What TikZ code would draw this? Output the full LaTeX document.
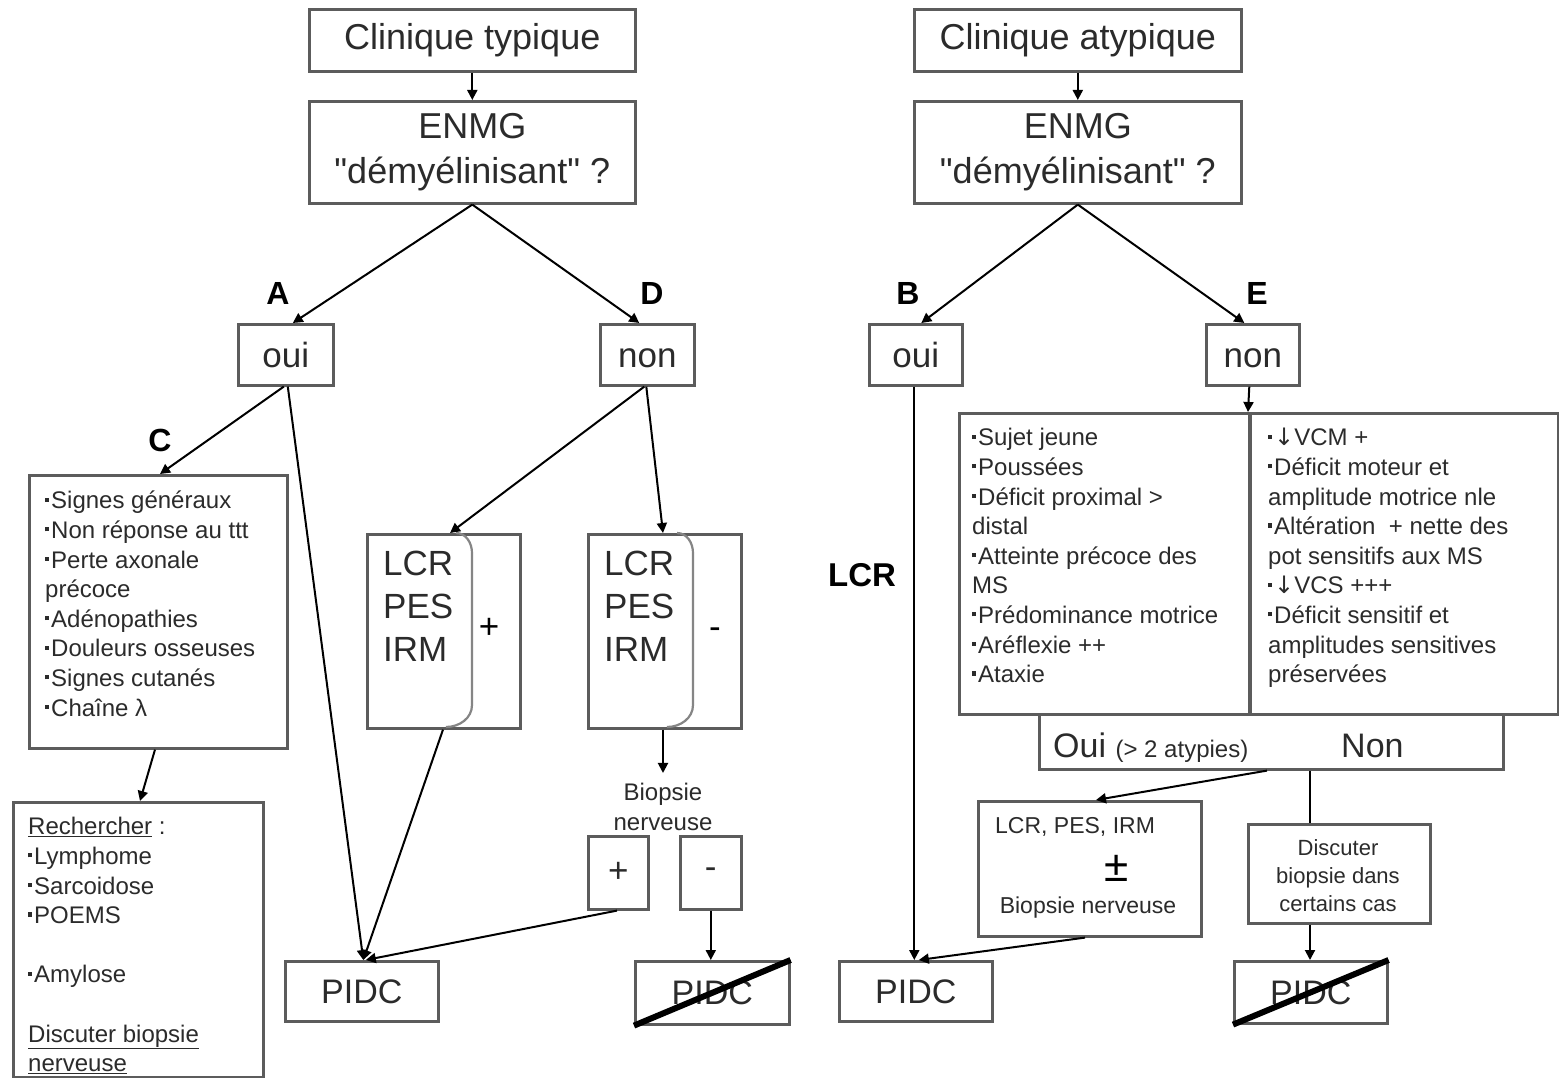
\documentclass[tikz,border=0pt]{standalone}
\usepackage{fontspec}
\setmainfont{Liberation Sans}
\newfontfamily\symfont{DejaVu Sans}
% same face without the TeX input mapping, so that " stays a straight quote
\newfontfamily\qfont{Liberation Sans}
\usetikzlibrary{arrows.meta,calc}
\definecolor{edge}{HTML}{5C5C5C}
\definecolor{ink}{HTML}{2B2B2B}
% small square bullet used in the lists
\newcommand\bu{\raisebox{0.3em}{\rule{0.17em}{0.17em}}\kern0.08em}
\newcommand\dn{{\symfont ↓}}
\newcommand\dq{{\qfont"}}
\tikzset{
  box/.style={draw=edge, line width=2.6pt, fill=white, inner sep=0pt, text=ink, anchor=north west},
  huge/.style={font=\fontsize{36}{45}\selectfont},
  mid/.style={font=\fontsize{35}{43}\selectfont},
  flat/.style={text height=25pt, text depth=0pt},
  list/.style={anchor=north west, inner sep=0pt, align=left, text=ink, font=\fontsize{24}{29.6}\selectfont},
  tag/.style={font=\bfseries\fontsize{32}{36}\selectfont, text=black, inner sep=0pt},
  conn/.style={draw=black, line width=2pt, -{Triangle[length=10pt,width=10pt]}},
  plain/.style={draw=black, line width=2pt},
  strike/.style={draw=black, line width=6pt},
  curl/.style={draw=edge!75, line width=2.2pt},
  divider/.style={draw=edge, line width=4.5pt},
}
\begin{document}
\begin{tikzpicture}[x=1pt, y=-1pt]
\fill[white] (0,0) rectangle (1559,1078);
\useasboundingbox (0,0) rectangle (1559,1078);

% ---------- typical presentation ----------
\node[box, huge, minimum width=326pt, minimum height=62pt] (ct) at (308,8) {Clinique typique};
\node[box, huge, align=center, minimum width=326pt, minimum height=102pt] (enL) at (308,100) {ENMG\\\dq démyélinisant\dq{} ?};
\node[box, mid, flat, minimum width=95pt, minimum height=61pt] (ouiA) at (237,323) {oui};
\node[box, mid, flat, minimum width=94pt, minimum height=61pt] (nonD) at (599,323) {non};
\node[tag] (lA) at (278,293) {A};
\node[tag] (lD) at (652,293) {D};
\node[tag] (lC) at (160,440) {C};

\node[box, minimum width=258pt, minimum height=273pt] (cbox) at (28,474) {};
\node[list] (ctext) at ($(cbox.north west)+(17,14)$) {\strut\bu Signes généraux\\\bu Non réponse au ttt\\\bu Perte axonale\\précoce\\\bu Adénopathies\\\bu Douleurs osseuses\\\bu Signes cutanés\\\bu Chaîne λ};

\node[box, minimum width=250pt, minimum height=275pt] (rbox) at (12,801) {};
\node[list] (rtext) at ($(rbox.north west)+(16,13)$) {\strut\underline{Rechercher} :\\\bu Lymphome\\\bu Sarcoidose\\\bu POEMS\\\mbox{}\\\bu Amylose\\\mbox{}\\\underline{Discuter biopsie}\\\underline{nerveuse}};

\node[box, minimum width=153pt, minimum height=194pt] (lcr1) at (366,533) {};
\node[mid, anchor=north west, inner sep=0pt, align=left, text=ink] (lcr1t) at ($(lcr1.north west)+(17,12.5)$) {\strut LCR\\PES\\IRM};
\node[mid, text=black, inner sep=0pt] (lcr1s) at (489,628) {+};
\draw[curl] ($(lcr1.north west)+(90,0)$) to[out=0,in=90] ($(lcr1.north west)+(106,20)$) -- ($(lcr1.north west)+(106,172)$) to[out=-90,in=0] ($(lcr1.north west)+(80,194)$);

\node[box, minimum width=153pt, minimum height=194pt] (lcr2) at (587,533) {};
\node[mid, anchor=north west, inner sep=0pt, align=left, text=ink] (lcr2t) at ($(lcr2.north west)+(17,12.5)$) {\strut LCR\\PES\\IRM};
\node[mid, text=black, inner sep=0pt] (lcr2s) at (715,633) {-};
\draw[curl] ($(lcr2.north west)+(90,0)$) to[out=0,in=90] ($(lcr2.north west)+(106,20)$) -- ($(lcr2.north west)+(106,172)$) to[out=-90,in=0] ($(lcr2.north west)+(80,194)$);

\node[align=center, text=ink, inner sep=0pt, font=\fontsize{24}{30}\selectfont] (bio) at (663,807) {Biopsie\\nerveuse};
\node[box, mid, minimum width=60pt, minimum height=73pt] (pbox) at (587,835) {+};
\node[box, mid, minimum width=61pt, minimum height=73pt] (mbox) at (679,835) {-};

\node[box, font=\fontsize{34}{40}\selectfont, minimum width=153pt, minimum height=60pt] (pidcL) at (284,960) {PIDC};
\node[box, font=\fontsize{34}{40}\selectfont, minimum width=154pt, minimum height=63pt] (pidcX1) at (634,960) {PIDC};

% connectors, typical side
\draw[conn] (ct.south) -- (enL.north);
\draw[conn] (enL.south) -- ($(ouiA.north)+(7,0)$);
\draw[conn] (enL.south) -- ($(nonD.north)+(-8,0)$);
\draw[conn] ($(ouiA.south)+(-2,0)$) -- ($(cbox.north west)+(132,0)$);
\draw[conn] ($(ouiA.south)+(2,0)$) -- ($(pidcL.north)+(1.5,0)$);
\draw[conn] ($(nonD.south)+(-3,0)$) -- ($(lcr1.north west)+(84,0)$);
\draw[conn] ($(nonD.south)+(-1,0)$) -- ($(lcr2.north west)+(76,0)$);
\draw[conn] ($(cbox.south west)+(127,0)$) -- ($(rbox.north west)+(128,0)$);
\draw[conn] ($(lcr1.south west)+(77,0)$) -- ($(pidcL.north)+(1.5,0)$);
\draw[conn] ($(lcr2.south west)+(76,0)$) -- ($(bio.north)+(0,-10)$);
\draw[conn] ($(pbox.south west)+(30,0)$) -- ($(pidcL.north)+(4,0)$);
\draw[conn] (mbox.south) -- (mbox.south |- pidcX1.north);
\draw[strike] (pidcX1.south west) -- (pidcX1.north east);

% ---------- atypical presentation ----------
\node[box, huge, minimum width=327pt, minimum height=62pt] (ca) at (913,8) {Clinique atypique};
\node[box, huge, align=center, minimum width=327pt, minimum height=102pt] (enR) at (913,100) {ENMG\\\dq démyélinisant\dq{} ?};
\node[box, mid, flat, minimum width=93pt, minimum height=61pt] (ouiB) at (868,323) {oui};
\node[box, mid, flat, minimum width=93pt, minimum height=61pt] (nonE) at (1205,323) {non};
\node[tag] (lB) at (908,293) {B};
\node[tag] (lE) at (1257,293) {E};
\node[tag, font=\bfseries\fontsize{33}{36}\selectfont] (lLCR) at (862,575) {LCR};

\node[box, minimum width=599pt, minimum height=301pt] (big) at (958,412) {};
\node[list] (bigl) at ($(big.north west)+(14,13)$) {\strut\bu Sujet jeune\\\bu Poussées\\\bu Déficit proximal >\\distal\\\bu Atteinte précoce des\\MS\\\bu Prédominance motrice\\\bu Aréflexie ++\\\bu Ataxie};
\node[list] (bigr) at ($(big.north west)+(310,13)$) {\strut\bu\dn VCM +\\\bu Déficit moteur et\\amplitude motrice nle\\\bu Altération ~+ nette des\\pot sensitifs aux MS\\\bu\dn VCS +++\\\bu Déficit sensitif et\\amplitudes sensitives\\préservées};

\node[box, minimum width=464pt, minimum height=55pt] (ouinon) at (1038,713) {};
\node[anchor=base west, inner sep=0pt, text=ink, font=\fontsize{34}{40}\selectfont] (ouiT) at (1053,757) {Oui {\fontsize{24}{28}\selectfont (> 2 atypies)}};
\node[anchor=base west, inner sep=0pt, text=ink, font=\fontsize{34}{40}\selectfont] (nonT) at (1341,757) {Non};

\node[box, minimum width=223pt, minimum height=135pt] (lcrpes) at (977,800) {};
\node[anchor=base west, inner sep=0pt, text=ink, font=\fontsize{23}{28}\selectfont] (lcrpesT) at (995,833) {LCR, PES, IRM};
\node[inner sep=0pt, text=black, font=\fontsize{44}{48}\selectfont] (pm) at (1117,868) {±};
\node[inner sep=0pt, text=ink, font=\fontsize{23}{28}\selectfont] (bioR) at (1088,908) {Biopsie nerveuse};

\node[box, minimum width=182pt, minimum height=99pt] (disc) at (1247,823) {};
\node[align=center, inner sep=0pt, text=ink, font=\fontsize{22}{28}\selectfont] (discT) at (1338,876) {Discuter\\biopsie dans\\certains cas};

\node[box, font=\fontsize{34}{40}\selectfont, minimum width=153pt, minimum height=60pt] (pidcR) at (838,960) {PIDC};
\node[box, font=\fontsize{34}{40}\selectfont, minimum width=153pt, minimum height=62pt] (pidcX2) at (1233,960) {PIDC};

% connectors, atypical side
\draw[conn] (ca.south) -- (enR.north);
\draw[conn] (enR.south) -- ($(ouiB.north)+(5.5,0)$);
\draw[conn] (enR.south) -- ($(nonE.north)+(-8.5,0)$);
\draw[conn] ($(ouiB.south)+(-1.5,0)$) -- ($(pidcR.north)+(-1.5,0)$);
\draw[conn] ($(nonE.south)+(-3.5,0)$) -- ($(big.north west)+(290,0)$);
\draw[divider] ($(big.north west)+(292,0)$) -- ($(big.south west)+(292,0)$);
\draw[conn] ($(ouinon.south west)+(229,0)$) -- ($(lcrpes.north west)+(119,0)$);
\draw[plain] ($(ouinon.south west)+(272,0)$) -- ($(disc.north west)+(63,0)$);
\draw[conn] ($(disc.south west)+(63,0)$) -- ($(pidcX2.north west)+(77,0)$);
\draw[conn] ($(lcrpes.south west)+(108,0)$) -- ($(pidcR.north)+(3,0)$);
\draw[strike] (pidcX2.south west) -- (pidcX2.north east);
\end{tikzpicture}
\end{document}
